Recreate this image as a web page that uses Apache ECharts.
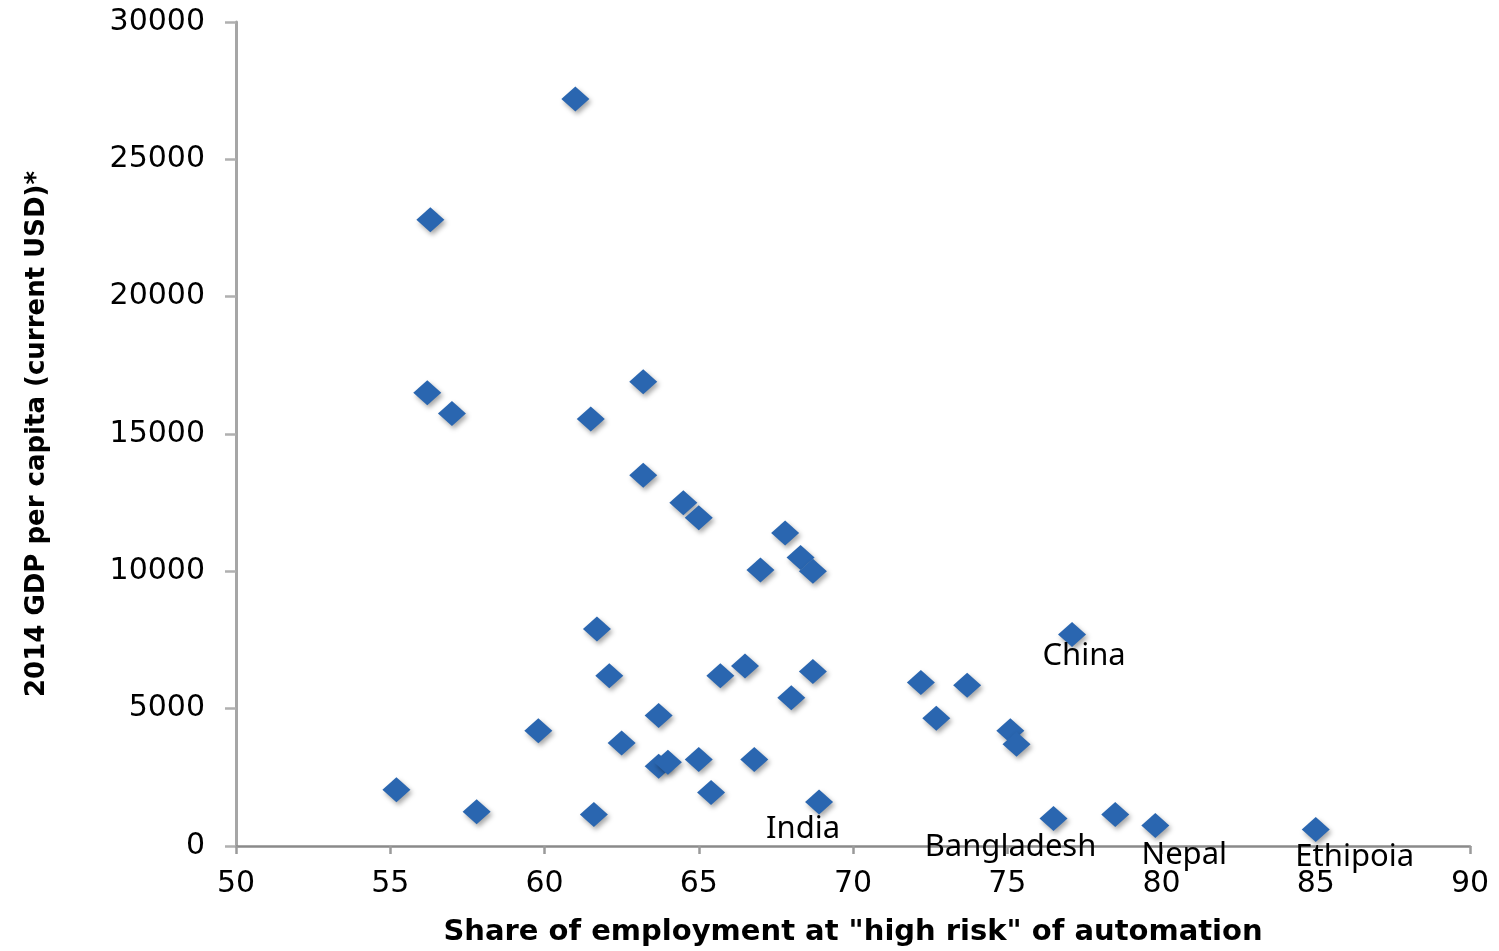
<!DOCTYPE html>
<html>
<head>
<meta charset="utf-8">
<title>GDP per capita vs automation risk</title>
<script src="https://cdn.jsdelivr.net/npm/echarts@6/dist/echarts.min.js"></script>
<style>
  html, body { margin: 0; padding: 0; background: #ffffff; }
  #chart { width: 1499px; height: 951px; }
</style>
</head>
<body>
<div id="chart"></div>
<script>
// Share of employment at "high risk" of automation (%)
const riskShare = [
  61.0, 56.3, 56.2, 57.0, 63.2, 61.5, 63.2, 64.5, 65.0, 67.8,
  68.3, 68.7, 67.0, 61.7, 77.1, 62.1, 65.7, 66.5, 68.7, 68.0,
  72.2, 73.7, 72.7, 63.7, 59.8, 62.5, 75.1, 75.3, 63.7, 64.0,
  65.0, 66.8, 65.4, 68.9, 55.2, 57.8, 61.6, 76.5, 78.5, 79.8,
  85.0
];
// 2014 GDP per capita, current USD
const gdpPerCapita = [
  27200, 22800, 16500, 15750, 16900, 15550, 13500, 12500, 11950, 11400,
  10500, 10000, 10050, 7900, 7700, 6200, 6200, 6550, 6350, 5400,
  5950, 5850, 4650, 4750, 4200, 3750, 4200, 3700, 2900, 3050,
  3150, 3150, 1950, 1600, 2050, 1250, 1150, 1000, 1150, 750,
  600
];
// Country names shown next to their markers ('' = unlabelled)
const countryNames = [
  '', '', '', '', '', '', '', '', '', '',
  '', '', '', '', 'China', '', '', '', '', '',
  '', '', '', '', '', '', '', '', '', '',
  '', '', '', 'India', '', '', '', 'Bangladesh', '', 'Nepal',
  'Ethipoia'
];
const xTicks = { min: 50, max: 90, step: 5 };
const yTicks = { min: 0, max: 30000, step: 5000 };

// where each country name sits relative to its marker
const labelOffsets = {
  China: [12, 22],
  India: [-16, 27],
  Bangladesh: [-43, 29],
  Nepal: [29, 30],
  Ethipoia: [39, 28]
};

const points = riskShare.map((x, i) => {
  const name = countryNames[i];
  const item = { value: [x, gdpPerCapita[i]], name: name };
  if (name) {
    item.label = {
      show: true,
      formatter: name,
      position: 'inside',
      offset: labelOffsets[name],
      color: '#000',
      fontFamily: 'Noto Sans',
      fontSize: 31
    };
  }
  return item;
});

const chart = echarts.init(document.getElementById('chart'), null, { renderer: 'canvas' });

chart.setOption({
  backgroundColor: '#ffffff',
  animation: false,
  grid: {
    left: 236, right: 29, top: 22, bottom: 105,
    containLabel: false,
    outerBoundsMode: 'none'
  },
  xAxis: {
    type: 'value',
    min: xTicks.min, max: xTicks.max, interval: xTicks.step,
    name: 'Share of employment at "high risk" of automation',
    nameLocation: 'middle',
    nameGap: 72,
    nameTextStyle: { fontFamily: 'DejaVu Sans', fontWeight: 'bold', fontSize: 29, color: '#000' },
    axisLine: { show: true, onZero: false, lineStyle: { color: '#8a8a8a', width: 2.5 } },
    axisTick: { show: true, length: 8, lineStyle: { color: '#9a9a9a', width: 2.5 } },
    axisLabel: { margin: 23, fontFamily: 'DejaVu Sans', fontSize: 30, color: '#000', formatter: v => String(v) },
    splitLine: { show: false }
  },
  yAxis: {
    type: 'value',
    min: yTicks.min, max: yTicks.max, interval: yTicks.step,
    name: '2014 GDP per capita (current USD)*',
    nameLocation: 'middle',
    nameGap: 186,
    nameTextStyle: { fontFamily: 'DejaVu Sans', fontWeight: 'bold', fontSize: 26, color: '#000' },
    axisLine: { show: true, onZero: false, lineStyle: { color: '#a6a6a6', width: 3 } },
    axisTick: { show: true, length: 11, lineStyle: { color: '#b0b0b0', width: 2.5 } },
    axisLabel: { margin: 31, fontFamily: 'DejaVu Sans', fontSize: 30, color: '#000', formatter: v => String(v) },
    splitLine: { show: false }
  },
  series: [{
    type: 'scatter',
    symbol: 'diamond',
    symbolSize: [28, 25],
    data: points,
    itemStyle: {
      color: '#2A66B0',
      opacity: 1,
      shadowColor: 'rgba(0,0,0,0.35)',
      shadowBlur: 5,
      shadowOffsetX: 2,
      shadowOffsetY: 3
    },
    label: { show: false },
    emphasis: { disabled: true }
  }]
});
</script>
</body>
</html>
